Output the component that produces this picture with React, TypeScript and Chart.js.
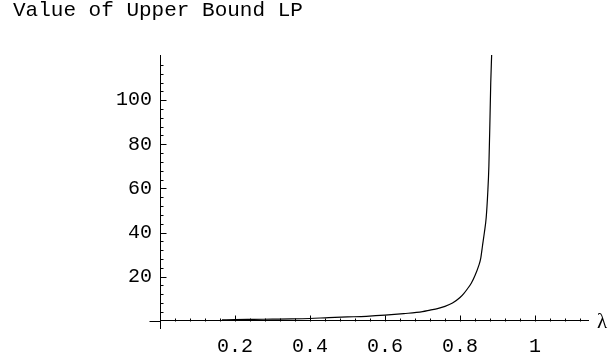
import React, { useEffect, useRef } from "react";
import { Chart, registerables } from "chart.js";

Chart.register(...registerables);

// ---- data ----
const lambdaValues = [
  0.165, 0.2, 0.25, 0.3, 0.35, 0.4, 0.45, 0.5, 0.55, 0.6, 0.65, 0.7, 0.72, 0.74,
  0.76, 0.78, 0.8, 0.81, 0.82, 0.83, 0.84, 0.85, 0.855, 0.86, 0.865, 0.87, 0.874,
  0.877, 0.88, 0.882, 0.8845,
];
const boundValues = [
  0.4, 0.5, 0.6, 0.7, 0.8, 1.0, 1.4, 1.7, 2.0, 2.5, 3.2, 4.1, 4.8, 5.5, 6.5, 8.0,
  10.5, 12.3, 14.5, 17, 20.5, 25, 28, 34, 40, 47, 58, 70, 92, 108, 121,
];
const xTickValues = [0.2, 0.4, 0.6, 0.8, 1];
const yTickValues = [20, 40, 60, 80, 100];
const titleText = "Value of Upper Bound LP";
const xAxisLabel = "λ";

const MONO = '"Liberation Mono", "DejaVu Sans Mono", monospace';

const axisDecor = {
  id: "axisDecor",
  afterDraw(chart: any) {
    const { ctx } = chart;
    const xs = chart.scales.x;
    const ys = chart.scales.y;
    const x0 = Math.round(xs.getPixelForValue(0)) + 0.5;
    const y0 = Math.round(ys.getPixelForValue(0)) + 0.5;
    ctx.save();
    ctx.strokeStyle = "#000";
    ctx.lineWidth = 1;
    ctx.beginPath();
    // short overhang of the horizontal axis to the left of the vertical axis
    ctx.moveTo(x0 - 11, y0);
    ctx.lineTo(x0, y0);
    for (let i = 1; i <= 28; i++) {
      const px = Math.round(xs.getPixelForValue(i * 0.04)) + 0.5;
      const len = i % 5 === 0 ? 6 : 3;
      ctx.moveTo(px, y0);
      ctx.lineTo(px, y0 - len);
    }
    for (let j = 1; j <= 29; j++) {
      const py = Math.round(ys.getPixelForValue(j * 4)) + 0.5;
      const len = j % 5 === 0 ? 6 : 3;
      ctx.moveTo(x0, py);
      ctx.lineTo(x0 + len, py);
    }
    ctx.stroke();

    ctx.fillStyle = "#000";
    ctx.font = `21px ${MONO}`;
    ctx.textAlign = "left";
    ctx.textBaseline = "middle";
    ctx.fillText(titleText, 13, 10);

    ctx.font = '21px "Liberation Serif", serif';
    ctx.textAlign = "center";
    ctx.fillText(xAxisLabel, 602, y0 + 1);
    ctx.restore();
  },
};

export default function App() {
  const ref = useRef<HTMLCanvasElement | null>(null);

  useEffect(() => {
    if (!ref.current) return;
    const chart = new Chart(ref.current, {
      type: "line",
      data: {
        datasets: [
          {
            data: lambdaValues.map((x, i) => ({ x, y: boundValues[i] })),
            borderColor: "#000",
            borderWidth: 1.2,
            pointRadius: 0,
            fill: false,
            cubicInterpolationMode: "monotone",
          },
        ],
      },
      options: {
        responsive: false,
        animation: false,
        layout: { padding: { left: 0, right: 20, top: 55, bottom: 32 } },
        plugins: {
          legend: { display: false },
          title: { display: false },
          tooltip: { enabled: false },
        },
        scales: {
          x: {
            type: "linear",
            min: 0,
            max: 428 / 375,
            position: { y: 0 } as any,
            afterBuildTicks: (scale: any) => {
              scale.ticks = xTickValues.map((v) => ({ value: v }));
            },
            grid: { display: true, drawOnChartArea: false, drawTicks: false },
            border: { display: true, color: "#000", width: 1 },
            ticks: {
              color: "#000",
              font: { family: MONO, size: 20 },
              padding: 14,
              autoSkip: false,
              maxRotation: 0,
              callback: (v: any) => String(v),
            },
          },
          y: {
            type: "linear",
            min: -3.31,
            max: 120.5,
            position: "left",
            afterFit: (scale: any) => {
              scale.width = 160;
            },
            afterBuildTicks: (scale: any) => {
              scale.ticks = yTickValues.map((v) => ({ value: v }));
            },
            grid: { display: true, drawOnChartArea: false, drawTicks: false },
            border: { display: true, color: "#000", width: 1 },
            ticks: {
              color: "#000",
              font: { family: MONO, size: 20 },
              padding: 8,
              autoSkip: false,
              callback: (v: any) => String(v),
            },
          },
        },
      },
      plugins: [axisDecor],
    });
    return () => chart.destroy();
  }, []);

  return (
    <div style={{ position: "fixed", left: 0, top: 0, width: 608, height: 360, background: "#fff" }}>
      <canvas ref={ref} width={608} height={360} style={{ display: "block" }} />
    </div>
  );
}
